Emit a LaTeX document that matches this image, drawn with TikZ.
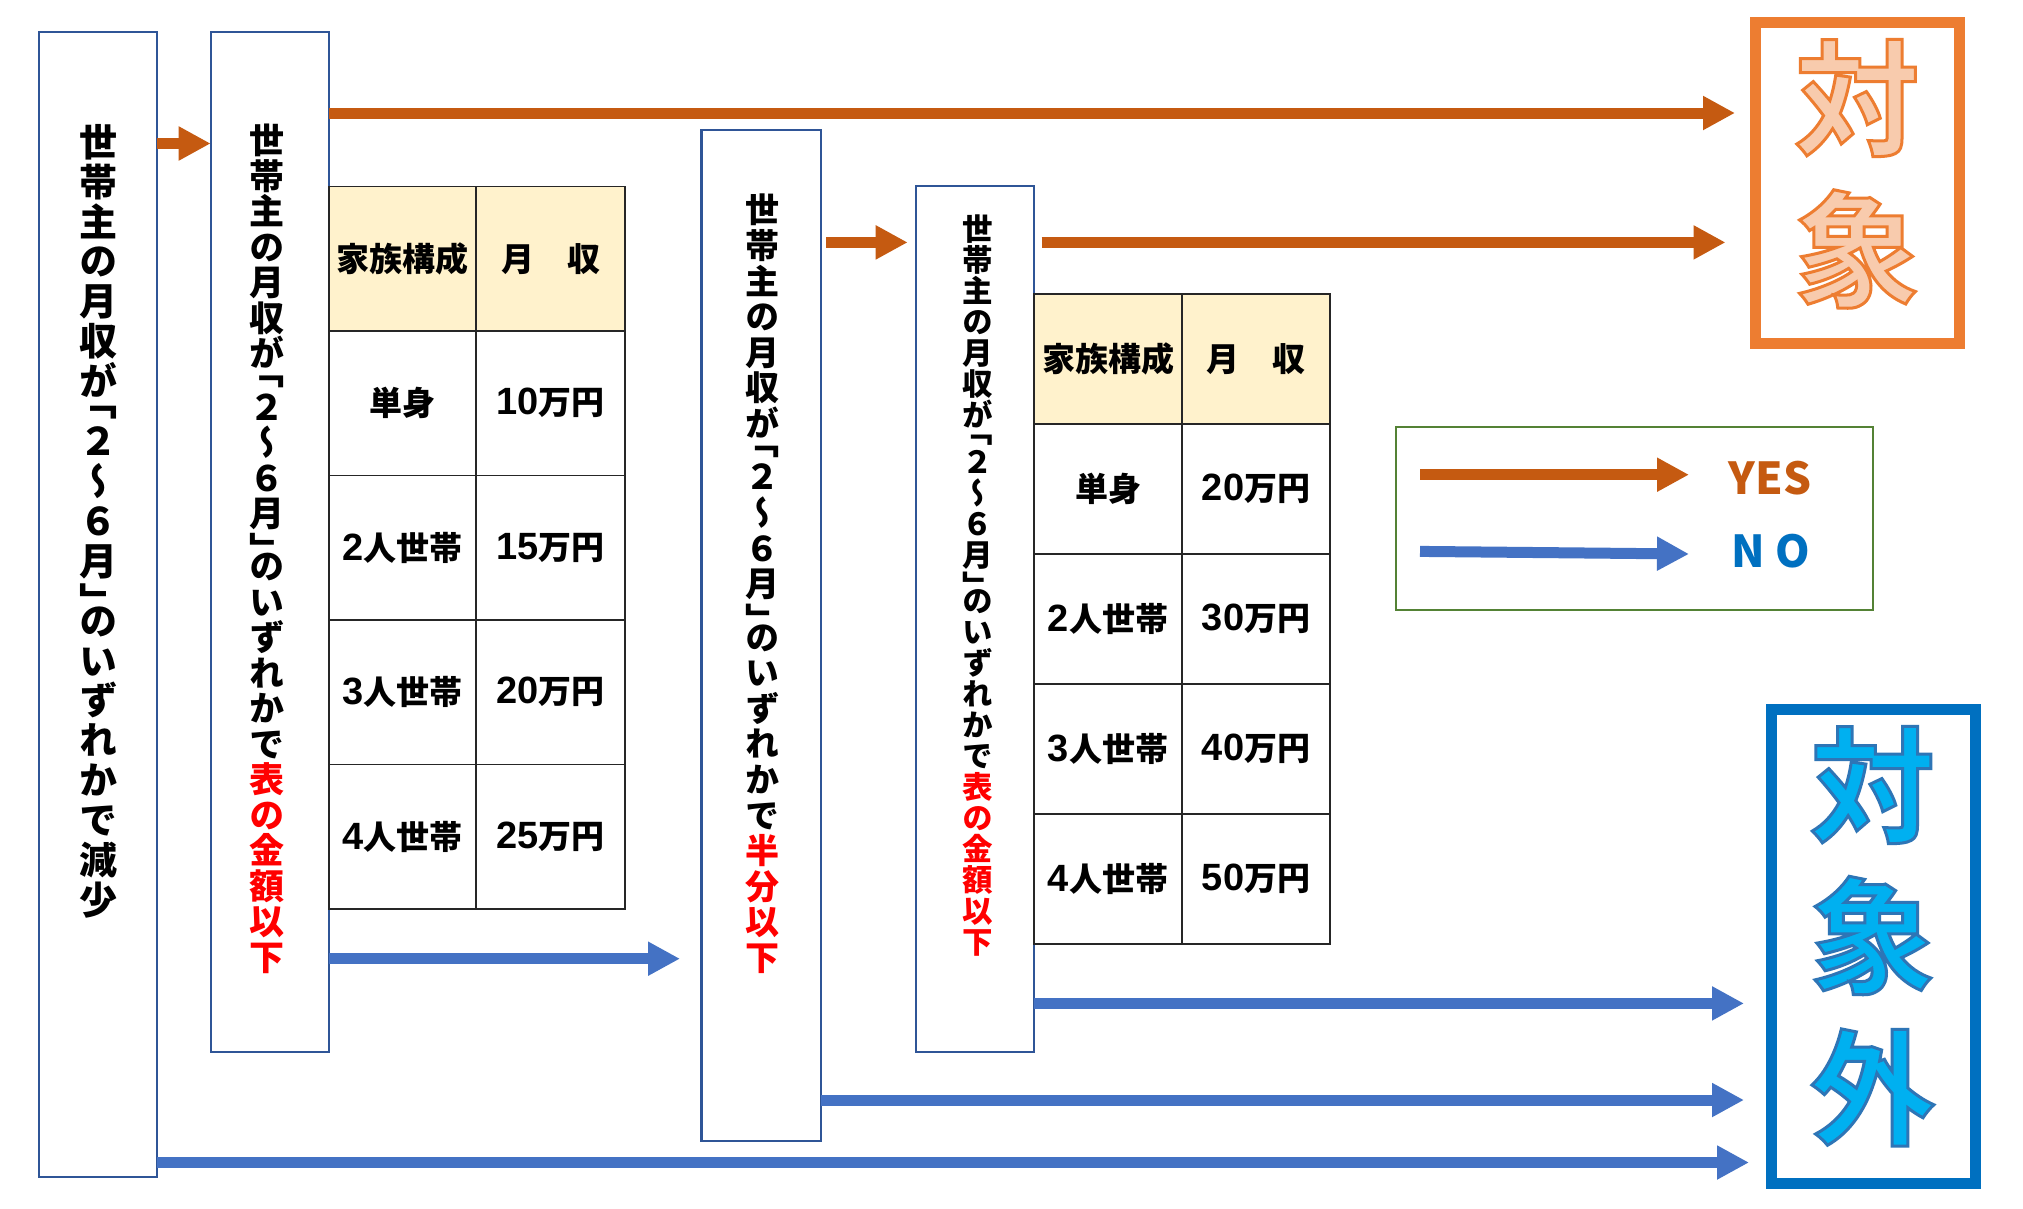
\documentclass[tikz,border=0pt]{standalone}
\usepackage{fontspec}
\usetikzlibrary{arrows.meta}
\setmainfont{Noto Sans CJK JP}
\newfontfamily\jpv{Noto Sans CJK JP}[RawFeature=+vert]
\newfontfamily\outfont{Noto Sans CJK JP}[UprightFont=* Bold, BoldFont=* Bold, FakeBold=2.4]
\newfontfamily\dgfont{Liberation Sans}
\definecolor{yesc}{HTML}{C55A11}
\definecolor{noc}{HTML}{4472C4}
\definecolor{boxc}{HTML}{2F5597}
\definecolor{hdr}{HTML}{FFF2CC}
\definecolor{taio}{HTML}{ED7D31}
\definecolor{taif}{HTML}{F8CBAD}
\definecolor{gaio}{HTML}{2E75B6}
\definecolor{gaif}{HTML}{00B0F0}
\definecolor{gaib}{HTML}{0070C0}
\definecolor{legc}{HTML}{548235}
\definecolor{nolbl}{HTML}{0070C0}
\definecolor{redtxt}{HTML}{FF0000}
\newcommand\rd[1]{\textcolor{redtxt}{#1}}
\newcommand\dg[1]{{\dgfont\bfseries\fontsize{38}{32}\selectfont #1}}
% outlined text: fill colour, stroke rgb, text
\newcommand\outl[3]{{\color{#1}\special{pdf:code #2 RG}\outfont #3}}
\begin{document}
\begin{tikzpicture}[x=1pt,y=-1pt,
  flowbox/.style={draw=boxc, line width=2.2pt, fill=white, inner sep=0pt, outer sep=0pt},
  vtxt/.style={align=center, inner sep=0pt, anchor=north},
  cell/.style={draw=black!85, line width=1.5pt, inner sep=0pt, outer sep=0pt,
    font=\bfseries\fontsize{33}{33}\selectfont},
  hcell/.style={cell, fill=hdr},
  yesarrow/.style={draw=yesc, line width=11pt, -{Triangle[length=32pt,width=32pt]}},
  noarrow/.style={draw=noc, line width=11pt, -{Triangle[length=32pt,width=32pt]}},
  bigchar/.style={inner sep=0pt, font=\fontsize{125}{125}\selectfont},
  resbox/.style={line width=11pt, inner sep=0pt, minimum width=204pt},
]
\fill[white] (0,0) rectangle (2023,1208);
\useasboundingbox (0,0) rectangle (2023,1208);

% flow boxes
\node[flowbox, minimum width=118.2pt, minimum height=1144.8pt] (b1) at (97.9,604.2) {};
\node[flowbox, minimum width=118.3pt, minimum height=1019.9pt] (b2) at (269.85,541.75) {};
\node[flowbox, minimum width=119.2pt, minimum height=1011.1pt] (b3) at (761,635.45) {};
\node[flowbox, minimum width=118.3pt, minimum height=866pt] (b4) at (974.85,619) {};

% vertical texts
\node[vtxt, font=\jpv\bfseries\fontsize{38}{39.9}\selectfont] (t1) at (98,124)
 {世\\帯\\主\\の\\月\\収\\が\\[-19.9pt]「\\２\\～\\６\\月\\」\\[-19.9pt]の\\い\\ず\\れ\\か\\で\\減\\少};
\node[vtxt, font=\jpv\bfseries\fontsize{35}{35.5}\selectfont] (t2) at (267,124)
 {世\\帯\\主\\の\\月\\収\\が\\[-17.7pt]「\\２\\～\\６\\月\\」\\[-17.7pt]の\\い\\ず\\れ\\か\\で\\\rd{表}\\\rd{の}\\\rd{金}\\\rd{額}\\\rd{以}\\\rd{下}};
\node[vtxt, font=\jpv\bfseries\fontsize{34}{35.6}\selectfont] (t3) at (762,194)
 {世\\帯\\主\\の\\月\\収\\が\\[-17.8pt]「\\２\\～\\６\\月\\」\\[-17.8pt]の\\い\\ず\\れ\\か\\で\\\rd{半}\\\rd{分}\\\rd{以}\\\rd{下}};
\node[vtxt, font=\jpv\bfseries\fontsize{30.5}{31}\selectfont] (t4) at (978,215)
 {世\\帯\\主\\の\\月\\収\\が\\[-15.5pt]「\\２\\～\\６\\月\\」\\[-15.5pt]の\\い\\ず\\れ\\か\\で\\\rd{表}\\\rd{の}\\\rd{金}\\\rd{額}\\\rd{以}\\\rd{下}};

% table 1
\foreach \i/\a/\b in {1/単身/\dg{10}万円, 2/\dg{2}人世帯/\dg{15}万円, 3/\dg{3}人世帯/\dg{20}万円, 4/\dg{4}人世帯/\dg{25}万円}{
  \node[cell, minimum width=147pt, minimum height=144.5pt] (ta\i) at (402.5,{186.4+144.5*(\i+0.5)}) {\a};
  \node[cell, minimum width=149pt, minimum height=144.5pt] (tb\i) at (550.5,{186.4+144.5*(\i+0.5)}) {\b};
}
\node[hcell, minimum width=147pt, minimum height=144.5pt] (ta0) at (402.5,258.65) {家族構成};
\node[hcell, minimum width=149pt, minimum height=144.5pt] (tb0) at (550.5,258.65) {月　収};

% table 2
\foreach \i/\a/\b in {1/単身/\dg{20}万円, 2/\dg{2}人世帯/\dg{30}万円, 3/\dg{3}人世帯/\dg{40}万円, 4/\dg{4}人世帯/\dg{50}万円}{
  \node[cell, minimum width=148pt, minimum height=130pt] (sa\i) at (1108,{294+130*(\i+0.5)}) {\a};
  \node[cell, minimum width=148pt, minimum height=130pt] (sb\i) at (1256,{294+130*(\i+0.5)}) {\b};
}
\node[hcell, minimum width=148pt, minimum height=130pt] (sa0) at (1108,359) {家族構成};
\node[hcell, minimum width=148pt, minimum height=130pt] (sb0) at (1256,359) {月　収};

% result boxes
\node[resbox, draw=taio, minimum height=321pt] (taisho) at (1857.5,182.5) {};
\node[bigchar] (ta1c) at (1857,98) {\outl{taif}{0.929 0.490 0.192}{対}};
\node[bigchar] (ta2c) at (1857,249) {\outl{taif}{0.929 0.490 0.192}{象}};

\node[resbox, draw=gaib, minimum height=474pt] (taishogai) at (1873.5,946.5) {};
\node[bigchar] (ga1c) at (1872.5,785) {\outl{gaif}{0.180 0.459 0.714}{対}};
\node[bigchar] (ga2c) at (1872.5,935.5) {\outl{gaif}{0.180 0.459 0.714}{象}};
\node[bigchar] (ga3c) at (1872.5,1087.5) {\outl{gaif}{0.180 0.459 0.714}{外}};

% legend
\node[draw=legc, line width=2pt, minimum width=477pt, minimum height=182.5pt, inner sep=0pt] (legend) at (1634.5,518.25) {};
\node[text=yesc, font=\bfseries\fontsize{44}{44}\selectfont, inner sep=0pt] (yes) at (1770,478) {YES};
\node[text=nolbl, font=\bfseries\fontsize{44}{44}\selectfont, inner sep=0pt] (no) at (1771,551) {N O};
\coordinate (l1s) at (1420,474.7);
\coordinate (l1e) at (1689,474.7);
\coordinate (l2s) at (1420,551.4);
\coordinate (l2e) at (1689,554);
\draw[yesarrow] (l1s) -- (l1e);
\draw[noarrow] (l2s) -- (l2e);

% connector levels
\coordinate (ya) at (0,143.5);
\coordinate (yb) at (0,113);
\coordinate (yc) at (0,242.4);
\coordinate (yd) at (0,958.7);
\coordinate (ye) at (0,1003.4);
\coordinate (yf) at (0,1100);
\coordinate (yg) at (0,1162.5);

\draw[yesarrow] (b1.east |- ya) -- (b2.west |- ya);
\draw[yesarrow, shorten >=15pt] (b2.east |- yb) -- (taisho.west |- yb);
\draw[yesarrow, shorten <=5.4pt, shorten >=8pt] (b3.east |- yc) -- (b4.west |- yc);
\draw[yesarrow, shorten <=7.6pt, shorten >=24.5pt] (b4.east |- yc) -- (taisho.west |- yc);
\draw[noarrow, shorten >=21.4pt] (b2.east |- yd) -- (b3.west |- yd);
\draw[noarrow, shorten >=22pt] (b4.east |- ye) -- (taishogai.west |- ye);
\draw[noarrow, shorten >=22pt] (b3.east |- yf) -- (taishogai.west |- yf);
\draw[noarrow, shorten >=17pt] (b1.east |- yg) -- (taishogai.west |- yg);
\end{tikzpicture}
\end{document}
